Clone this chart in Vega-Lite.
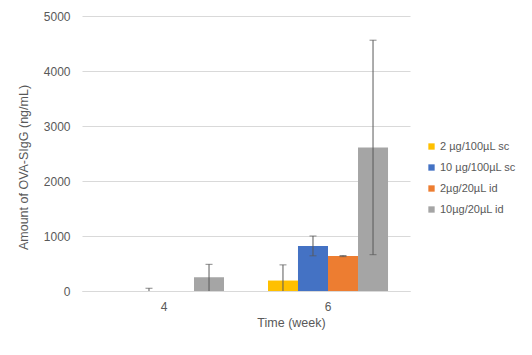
{
  "$schema": "https://vega.github.io/schema/vega-lite/v6.json",
  "autosize": {"type": "none"},
  "width": 328,
  "height": 275,
  "padding": {"left": 82, "top": 16, "right": 122, "bottom": 64},
  "background": "white",
  "config": {
    "font": "Liberation Sans",
    "view": {"stroke": null},
    "axis": {"labelColor": "#595959", "titleColor": "#595959", "titleFontWeight": "normal", "labelFontSize": 12, "titleFontSize": 12.5}
  },
  "data": {
    "values": [
      {"week": "4", "group": "2 µg/100µL sc", "value": 0, "lo": null, "hi": null},
      {"week": "4", "group": "10 µg/100µL sc", "value": 0, "lo": 0, "hi": 50},
      {"week": "4", "group": "2µg/20µL id", "value": 0, "lo": null, "hi": null},
      {"week": "4", "group": "10µg/20µL id", "value": 250, "lo": 0, "hi": 485},
      {"week": "6", "group": "2 µg/100µL sc", "value": 190, "lo": 0, "hi": 475},
      {"week": "6", "group": "10 µg/100µL sc", "value": 820, "lo": 640, "hi": 1000},
      {"week": "6", "group": "2µg/20µL id", "value": 635, "lo": 625, "hi": 645},
      {"week": "6", "group": "10µg/20µL id", "value": 2610, "lo": 660, "hi": 4560}
    ]
  },
  "encoding": {
    "x": {
      "field": "week", "type": "nominal",
      "scale": {"paddingInner": 0.268, "paddingOuter": 0.134},
      "axis": {"labelAngle": 0, "ticks": false, "domain": true, "domainColor": "#D9D9D9", "labelPadding": 10, "title": "Time (week)", "titleX": 209, "titleY": 31, "titleBaseline": "middle", "titleAnchor": null}
    },
    "xOffset": {"field": "group", "type": "nominal", "sort": ["2 µg/100µL sc", "10 µg/100µL sc", "2µg/20µL id", "10µg/20µL id"], "scale": {"paddingInner": 0, "paddingOuter": 0}}
  },
  "layer": [
    {
      "mark": {"type": "bar"},
      "encoding": {
        "y": {
          "field": "value", "type": "quantitative",
          "scale": {"domain": [0, 5000]},
          "axis": {"values": [0, 500, 1000, 1500, 2000, 2500, 3000, 3500, 4000, 4500, 5000], "format": "d", "ticks": false, "domain": false, "gridColor": "#D9D9D9", "labelPadding": 12, "title": "Amount of OVA-SIgG (ng/mL)", "titleX": -59, "titleY": 151, "titleBaseline": "middle", "titleAngle": -90}
        },
        "color": {
          "field": "group", "type": "nominal",
          "sort": ["2 µg/100µL sc", "10 µg/100µL sc", "2µg/20µL id", "10µg/20µL id"],
          "scale": {"domain": ["2 µg/100µL sc", "10 µg/100µL sc", "2µg/20µL id", "10µg/20µL id"], "range": ["#FFC000", "#4472C4", "#ED7D31", "#A5A5A5"]},
          "legend": {"title": null, "orient": "none", "legendX": 344, "legendY": 125, "symbolType": "square", "symbolSize": 40, "symbolStrokeWidth": 0, "labelFontSize": 11, "labelColor": "#595959", "rowPadding": 9, "labelOffset": 3}
        }
      }
    },
    {
      "transform": [{"filter": "datum.hi != null"}],
      "mark": {"type": "rule", "color": "#595959", "strokeWidth": 1},
      "encoding": {
        "y": {"field": "lo", "type": "quantitative"},
        "y2": {"field": "hi"}
      }
    },
    {
      "transform": [{"filter": "datum.hi != null"}],
      "mark": {"type": "tick", "color": "#595959", "thickness": 1, "size": 7, "orient": "horizontal"},
      "encoding": {
        "y": {"field": "hi", "type": "quantitative"}
      }
    },
    {
      "transform": [{"filter": "datum.lo != null && datum.lo > 0"}],
      "mark": {"type": "tick", "color": "#595959", "thickness": 1, "size": 7, "orient": "horizontal"},
      "encoding": {
        "y": {"field": "lo", "type": "quantitative"}
      }
    }
  ]
}
